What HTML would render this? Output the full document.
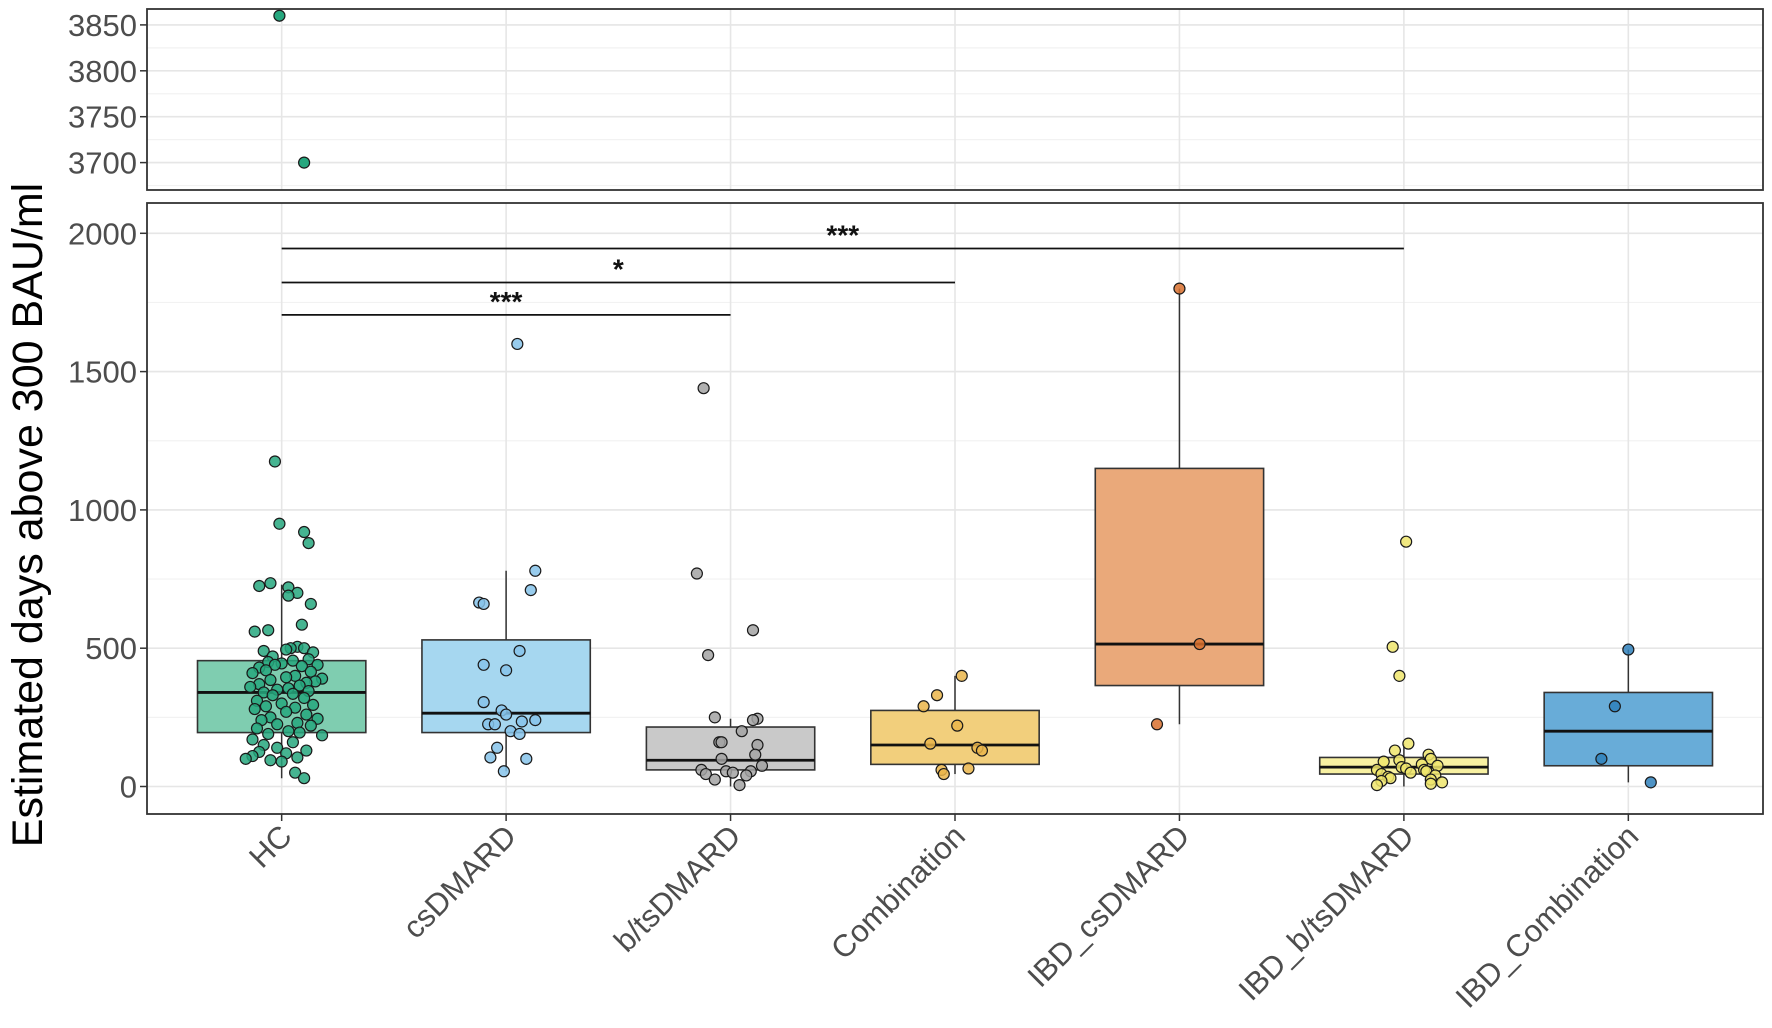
<!DOCTYPE html>
<html><head><meta charset="utf-8"><style>
html,body{margin:0;padding:0;background:#fff;}
svg{display:block;font-family:"Liberation Sans",Arial,sans-serif;}
</style></head><body>
<svg id="chart" width="1772" height="1028" viewBox="0 0 1772 1028" xmlns="http://www.w3.org/2000/svg">
<text transform="translate(42,515) rotate(-90)" text-anchor="middle" font-size="43" fill="#000">Estimated days above 300 BAU/ml</text>
<g id="top"></g><g id="bottom"></g><g id="xlab"></g>
</svg>
<script>
const categories=["HC","csDMARD","b/tsDMARD","Combination","IBD_csDMARD","IBD_b/tsDMARD","IBD_Combination"];
const q1=[195,195,60,80,365,45,75];
const medians=[340,265,95,150,515,70,200];
const q3=[455,530,215,275,1150,105,340];
const whiskLow=[30,55,0,45,225,0,15];
const whiskHigh=[730,780,245,400,1800,155,495];
const fills=["#7fcdb0","#a6d7f0","#c9c9c9","#f2cf7c","#eaa97a","#f8f1a2","#68acd8"];
const ptFills=["#26a77e","#86c3ea","#a3a3a3","#eab54a","#d8702e","#efe56c","#2f80bb"];
const pointsHC=[3860,3700,1175,950,920,880,735,725,720,700,690,660,585,565,560,505,500,500,495,490,485,470,460,455,450,445,440,440,435,430,420,415,410,400,395,390,385,380,375,370,365,360,355,350,345,340,335,330,320,310,300,295,290,285,280,270,260,250,245,240,230,225,220,210,200,195,190,185,170,160,150,140,130,125,120,110,105,100,95,90,50,30];
const jitterHC=[-0.01,0.1,-0.03,-0.01,0.1,0.12,-0.05,-0.1,0.03,0.07,0.03,0.13,0.09,-0.06,-0.12,0.07,0.1,0.04,0.02,-0.08,0.14,-0.04,0.12,0.05,-0.06,0.0,-0.03,0.16,0.09,-0.1,-0.07,0.13,-0.13,0.06,0.02,0.18,-0.05,0.15,0.11,-0.1,0.08,-0.14,0.03,-0.02,0.12,-0.08,0.05,-0.04,0.1,-0.11,0.0,0.14,-0.07,0.06,-0.12,0.02,0.11,-0.05,0.16,-0.09,0.07,-0.02,0.13,-0.11,0.03,0.08,-0.06,0.18,-0.13,0.05,-0.08,-0.02,0.11,-0.1,0.02,-0.13,0.07,-0.16,-0.05,0.0,0.06,0.1];
const pointsCs=[1600,780,710,665,660,490,440,420,305,275,260,240,235,225,225,200,190,140,105,100,55];
const jitterCs=[0.05,0.13,0.11,-0.12,-0.1,0.06,-0.1,0.0,-0.1,-0.02,0.0,0.13,0.07,-0.08,-0.05,0.02,0.06,-0.04,-0.07,0.09,-0.01];
const pointsBts=[1440,770,565,475,250,245,240,200,160,160,150,115,100,75,60,55,55,50,45,40,25,5];
const jitterBts=[-0.12,-0.15,0.1,-0.1,-0.07,0.12,0.1,0.05,-0.05,-0.04,0.12,0.11,-0.04,0.14,-0.13,-0.02,0.09,0.01,-0.11,0.07,-0.07,0.04];
const pointsComb=[400,330,290,220,155,140,130,65,60,45];
const jitterComb=[0.03,-0.08,-0.14,0.01,-0.11,0.1,0.12,0.06,-0.06,-0.05];
const pointsIbdCs=[1800,515,225];
const jitterIbdCs=[0.0,0.09,-0.1];
const pointsIbdBts=[885,505,400,155,130,115,100,95,90,80,75,70,65,60,60,55,50,45,40,35,30,25,20,15,10,5];
const jitterIbdBts=[0.01,-0.05,-0.02,0.02,-0.04,0.11,0.12,-0.02,-0.09,0.08,0.15,-0.01,0.01,0.09,-0.12,0.1,0.03,-0.1,0.14,-0.07,-0.06,0.12,-0.1,0.17,0.12,-0.12];
const pointsIbdComb=[495,290,100,15];
const jitterIbdComb=[0.0,-0.06,-0.12,0.1];
const allPoints=[pointsHC,pointsCs,pointsBts,pointsComb,pointsIbdCs,pointsIbdBts,pointsIbdComb];
const allJitter=[jitterHC,jitterCs,jitterBts,jitterComb,jitterIbdCs,jitterIbdBts,jitterIbdComb];
const topTicks=[3700,3750,3800,3850];
const bottomTicks=[0,500,1000,1500,2000];
const sigFrom=[0,0,0];
const sigTo=[5,3,2];
const sigY=[1945,1822,1705];
const sigLabels=["***","*","***"];

const NS="http://www.w3.org/2000/svg";
const L=147,R=1763;
const x=i=>L+(i+0.6)*(R-L)/7.2;
const yT=v=>24.9+(3850-v)*45.9/50;
const yB=v=>786.5-v*0.2766;
function mk(tag,attrs,parent,text){const e=document.createElementNS(NS,tag);for(const k in attrs)e.setAttribute(k,attrs[k]);if(text!==undefined)e.textContent=text;parent.appendChild(e);return e;}
const gT=document.getElementById('top'),gB=document.getElementById('bottom'),gX=document.getElementById('xlab');
function panel(g,top,bot,ticks,yf,minorStep,vmin,vmax){
  for(let v=Math.ceil(vmin/minorStep)*minorStep;v<=vmax;v+=minorStep){const l=mk('line',{x1:L,x2:R,y1:yf(v),y2:yf(v),stroke:'#f2f2f2','stroke-width':1.2},g);
    }
  ticks.forEach(t=>{const l=mk('line',{x1:L,x2:R,y1:yf(t),y2:yf(t),stroke:'#e6e6e6','stroke-width':1.6},g);
    
    const tk=mk('line',{x1:L-7,x2:L,y1:yf(t),y2:yf(t),stroke:'#333','stroke-width':1.5},g);
    
    const tx=mk('text',{x:L-10,y:yf(t)+11,'text-anchor':'end','font-size':31,fill:'#4d4d4d'},g,String(t));
    });
  categories.forEach((c,i)=>{const l=mk('line',{x1:x(i),x2:x(i),y1:top,y2:bot,stroke:'#e6e6e6','stroke-width':1.6},g);
    });
}
panel(gT,9,190,topTicks,yT,25,3675,3870);
panel(gB,203,814,bottomTicks,yB,250,-100,2100);
categories.forEach((c,i)=>{allPoints[i].forEach((v,j)=>{if(v>3000){const p=mk('circle',{cx:x(i+allJitter[i][j]),cy:yT(v),r:5.5,fill:ptFills[i],stroke:'#1a1a1a','stroke-width':1.2},gT);
  }});});
const bw=(R-L)/7.2*0.75;
categories.forEach((c,i)=>{
  const cx=x(i);
  const w=mk('line',{x1:cx,x2:cx,y1:yB(whiskLow[i]),y2:yB(whiskHigh[i]),stroke:'#333','stroke-width':1.5},gB);
  
  const b=mk('rect',{x:cx-bw/2,y:yB(q3[i]),width:bw,height:yB(q1[i])-yB(q3[i]),fill:fills[i],stroke:'#333','stroke-width':1.6},gB);
  
  const m=mk('line',{x1:cx-bw/2,x2:cx+bw/2,y1:yB(medians[i]),y2:yB(medians[i]),stroke:'#111','stroke-width':2.8},gB);
  
  allPoints[i].forEach((v,j)=>{if(v<3000){const p=mk('circle',{cx:x(i+allJitter[i][j]),cy:yB(v),r:5.5,fill:ptFills[i],'fill-opacity':0.85,stroke:'#1a1a1a','stroke-width':1.2},gB);
    }});
});
sigY.forEach((v,k)=>{const y=yB(v);
  const l=mk('line',{x1:x(sigFrom[k]),x2:x(sigTo[k]),y1:y,y2:y,stroke:'#111','stroke-width':1.8},gB);
  
  const t=mk('text',{x:(x(sigFrom[k])+x(sigTo[k]))/2,y:y-4,'text-anchor':'middle','font-size':28,'font-weight':'bold',fill:'#111'},gB,sigLabels[k]);
  });
[[9,190],[203,814]].forEach(([a,b])=>{const r=mk('rect',{x:L,y:a,width:R-L,height:b-a,fill:'none',stroke:'#333','stroke-width':1.8},gB);
  });
categories.forEach((c,i)=>{const cx=x(i);
  const tk=mk('line',{x1:cx,x2:cx,y1:814,y2:821,stroke:'#333','stroke-width':1.5},gX);
  
  const t=mk('text',{transform:`translate(${cx+12},${838}) rotate(-45)`,'text-anchor':'end','font-size':31,fill:'#4d4d4d'},gX,c);
  });
</script>
</body></html>
